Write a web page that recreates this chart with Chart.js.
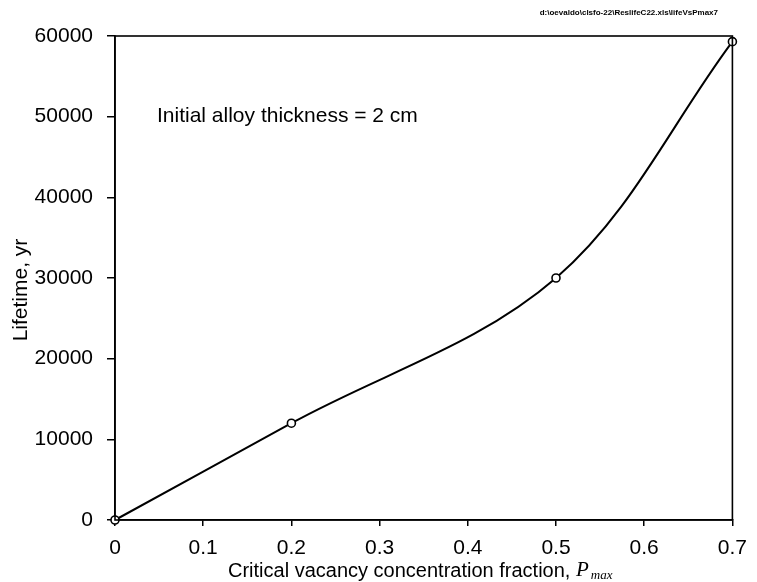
<!DOCTYPE html>
<html>
<head>
<meta charset="utf-8">
<script src="https://cdn.jsdelivr.net/npm/chart.js@4"></script>
<style>
  html, body { margin: 0; padding: 0; background: #fff; }
  #wrap { width: 757px; height: 582px; position: relative; }
</style>
</head>
<body>
<div id="wrap"><canvas id="c" width="757" height="582"></canvas></div>
<script>
// Critical vacancy concentration fraction (P_max) and predicted lifetime (yr)
const pmax = [0, 0.2, 0.5, 0.7];
const lifetime = [0, 12000, 30000, 59300];
const xTicks = [0, 0.1, 0.2, 0.3, 0.4, 0.5, 0.6, 0.7];
const yTicks = [0, 10000, 20000, 30000, 40000, 50000, 60000];
const noteText = 'Initial alloy thickness = 2 cm';
const fileText = 'd:\\oevaldo\\clsfo-22\\ReslifeC22.xls\\lifeVsPmax7';
const yTitle = 'Lifetime, yr';
const xTitle = 'Critical vacancy concentration fraction, ';

const SANS = '"Liberation Sans", Arial, sans-serif';
const SERIF = '"Liberation Serif", "Times New Roman", serif';

// Frame, axis titles and annotation text drawn on the canvas
const decorations = {
  id: 'decorations',
  afterDraw(chart) {
    const { ctx, chartArea: a } = chart;
    ctx.save();
    ctx.strokeStyle = '#000';
    ctx.lineWidth = 1.6;
    ctx.strokeRect(a.left, a.top, a.right - a.left, a.bottom - a.top);

    ctx.fillStyle = '#000';
    // annotation
    ctx.font = '21px ' + SANS;
    ctx.textAlign = 'left';
    ctx.textBaseline = 'middle';
    ctx.fillText(noteText, a.left + 42, 116);

    // file path at the top
    ctx.font = 'bold 8px ' + SANS;
    ctx.textAlign = 'right';
    ctx.textBaseline = 'middle';
    ctx.fillText(fileText, 718, 13);

    // y-axis title
    ctx.save();
    ctx.translate(21, 290);
    ctx.rotate(-Math.PI / 2);
    ctx.font = '21px ' + SANS;
    ctx.textAlign = 'center';
    ctx.textBaseline = 'middle';
    ctx.fillText(yTitle, 0, 0);
    ctx.restore();

    // x-axis title with italic P and subscript "max"
    const y0 = 571;
    ctx.textBaseline = 'middle';
    ctx.textAlign = 'left';
    ctx.font = '20px ' + SANS;
    const w1 = ctx.measureText(xTitle).width;
    ctx.font = 'italic 21px ' + SERIF;
    const wP = ctx.measureText('P').width;
    let x = 228;
    ctx.font = '20px ' + SANS;
    ctx.fillText(xTitle, x, y0);
    x += w1;
    ctx.font = 'italic 21px ' + SERIF;
    ctx.fillText('P', x, y0 - 1);
    x += wP + 2;
    ctx.font = 'italic 13px ' + SERIF;
    ctx.fillText('max', x, y0 + 5);
    ctx.restore();
  }
};

new Chart(document.getElementById('c'), {
  type: 'line',
  data: {
    datasets: [{
      data: pmax.map((p, i) => ({ x: p, y: lifetime[i] })),
      borderColor: '#000',
      borderWidth: 2,
      tension: 0.35,
      pointRadius: 4,
      pointStyle: 'circle',
      pointBackgroundColor: '#fff',
      pointBorderColor: '#000',
      pointBorderWidth: 1.6,
      clip: false
    }]
  },
  options: {
    responsive: false,
    animation: false,
    devicePixelRatio: 1,
    layout: { padding: { top: 36, right: 24, left: 0, bottom: 0 } },
    plugins: { legend: { display: false }, tooltip: { enabled: false } },
    scales: {
      x: {
        type: 'linear',
        min: 0, max: 0.7,
        afterFit(s) { s.height = 62; },
        afterBuildTicks(s) { s.ticks = xTicks.map(v => ({ value: v })); },
        grid: { drawOnChartArea: false, tickLength: 6, color: '#000', lineWidth: 1.5 },
        border: { color: '#000', width: 1.6 },
        ticks: {
          color: '#000',
          padding: 10,
          maxRotation: 0,
          font: { family: SANS, size: 21 },
          callback: v => v === 0 ? '0' : v.toFixed(1)
        }
      },
      y: {
        min: 0, max: 60000,
        afterFit(s) { s.width = 115; },
        afterBuildTicks(s) { s.ticks = yTicks.map(v => ({ value: v })); },
        grid: { drawOnChartArea: false, tickLength: 8, color: '#000', lineWidth: 1.5 },
        border: { color: '#000', width: 1.6 },
        ticks: {
          color: '#000',
          padding: 14,
          font: { family: SANS, size: 21 },
          callback: v => String(v)
        }
      }
    }
  },
  plugins: [decorations]
});
</script>
</body>
</html>
